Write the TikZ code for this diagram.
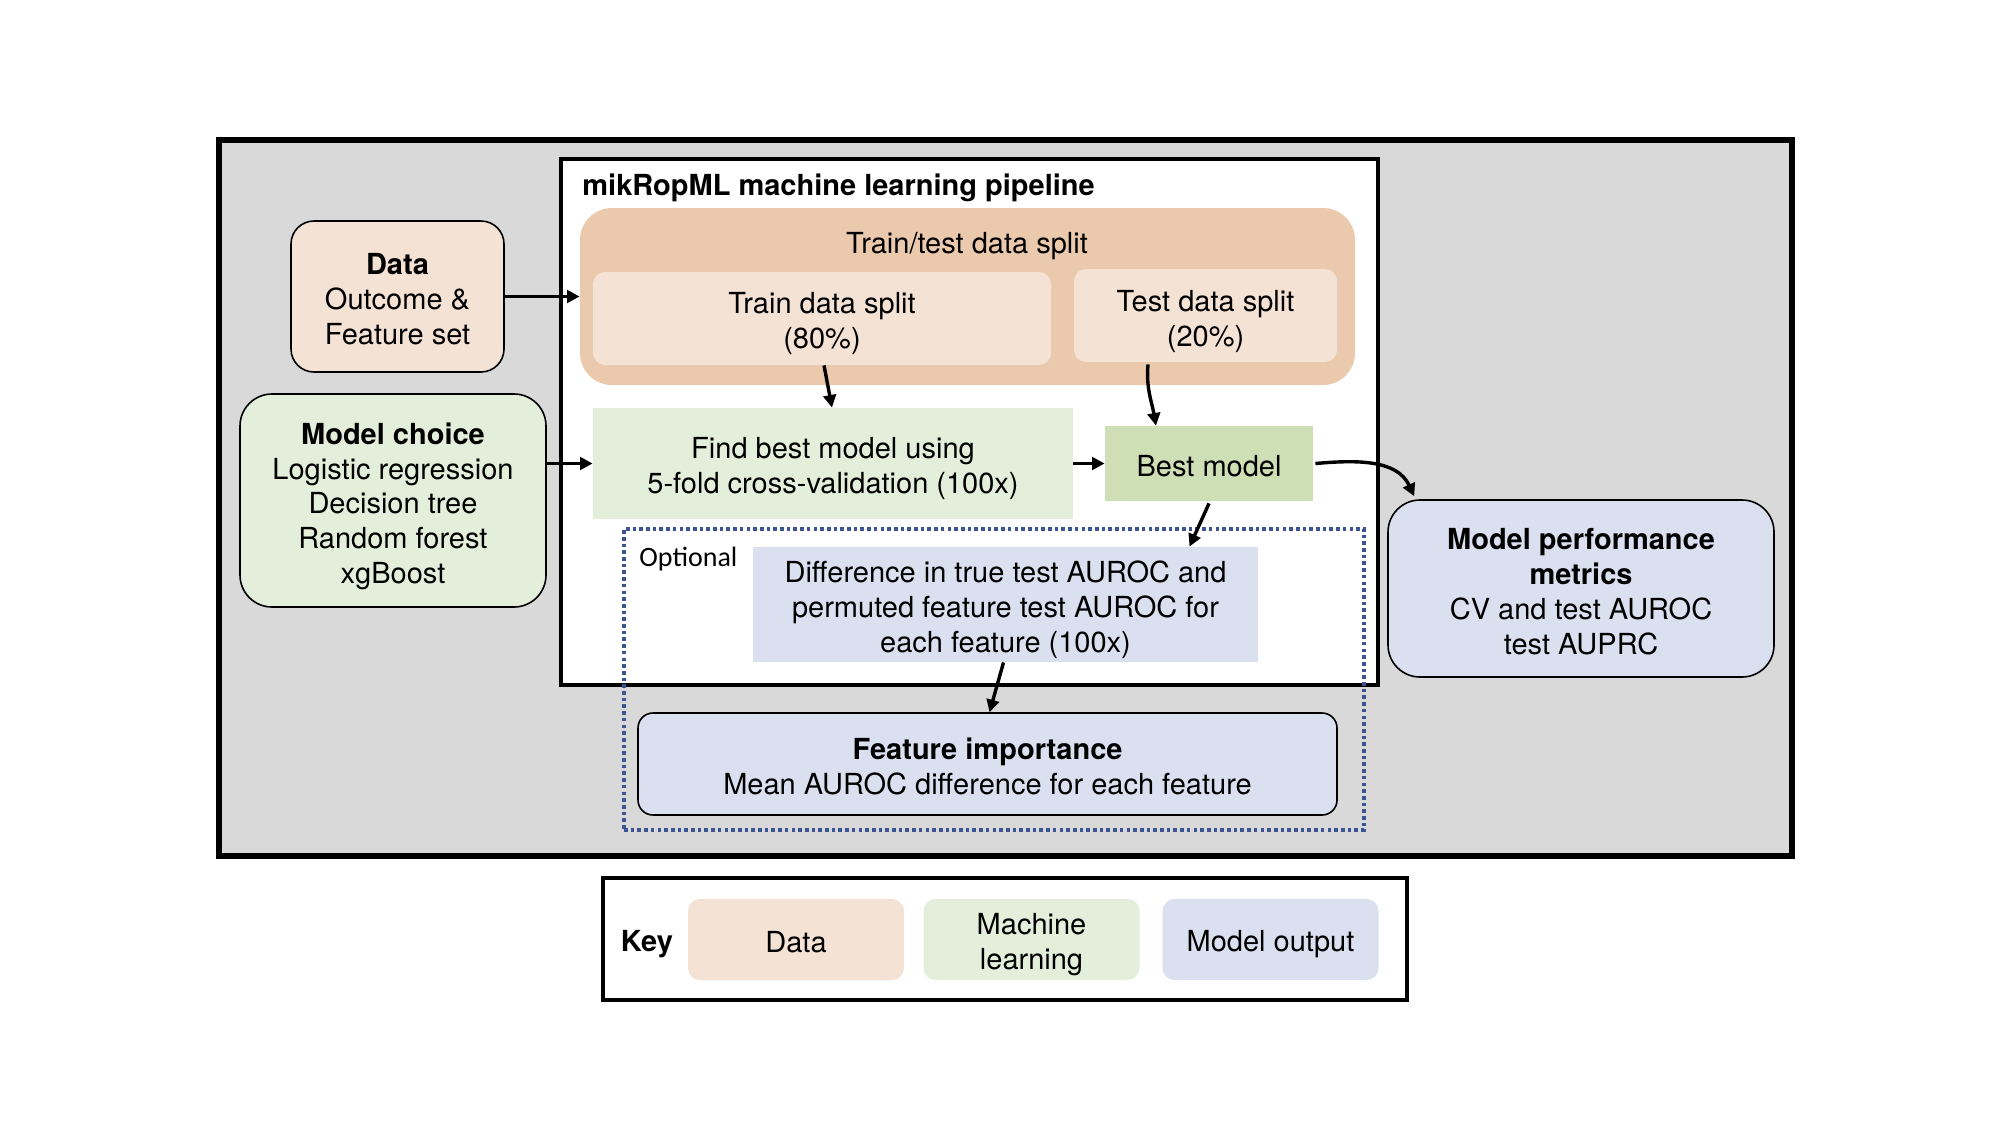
\documentclass[tikz,border=0pt]{standalone}
\usepackage{fontspec}
\setmainfont{TeX Gyre Heros}
\newfontfamily\optfont{Carlito}
\usetikzlibrary{arrows.meta}
\definecolor{bggray}{HTML}{D9D9D9}
\definecolor{orDark}{HTML}{EBC9AC}
\definecolor{orLight}{HTML}{F4E2D5}
\definecolor{grLight}{HTML}{E3EFDA}
\definecolor{grMid}{HTML}{CEDFB6}
\definecolor{blLight}{HTML}{DBE0F0}
\definecolor{dotblue}{HTML}{3D5492}
\tikzset{
  txt/.style={font=\fontsize{14.5}{17.4}\selectfont, align=center, inner sep=0pt},
  box/.style={rectangle, inner sep=0pt},
  arr/.style={-{Triangle[length=6.3pt,width=6.3pt]}, line width=1.7pt, black},
  thinbord/.style={draw=black, line width=0.8pt}
}
\begin{document}
\begin{tikzpicture}[x=0.5pt,y=-0.5pt]
\useasboundingbox[fill=white] (0,0) rectangle (2000,1125);
% outer
\node[box, fill=bggray, draw=black, line width=2.7pt, minimum width=786.5pt, minimum height=358pt] (outer) at (1005.5,498) {};
% pipeline
\node[box, fill=white, draw=black, line width=1.9pt, minimum width=408.5pt, minimum height=263pt] (pipe) at (969.5,422) {};
\node[txt, anchor=west, font=\fontsize{14.5}{17.4}\selectfont\bfseries] (title) at ([yshift=-1.3pt]582,185) {mikRopML machine learning pipeline};
% split
\node[box, fill=orDark, rounded corners=16pt, minimum width=387.5pt, minimum height=88.5pt] (split) at (967.5,296.5) {};
\node[txt] (splittitle) at ([yshift=-1.9pt]967,242) {Train/test data split};
\node[box, fill=orLight, rounded corners=6pt, minimum width=229pt, minimum height=46.5pt] (train) at (822,318.5) {};
\node[txt] (train-t) at ([yshift=-2.5pt]train.center) {Train data split\\(80\%)};
\node[box, fill=orLight, rounded corners=6pt, minimum width=131.5pt, minimum height=46.5pt] (test) at (1205.5,315.5) {};
\node[txt] (test-t) at ([yshift=-2.9pt]test.center) {Test data split\\(20\%)};
% ML
\node[box, fill=grLight, minimum width=240pt, minimum height=55.5pt] (find) at (833,463.5) {};
\node[txt] (find-t) at ([yshift=-2.5pt]find.center) {Find best model using\\5-fold cross-validation (100x)};
\node[box, fill=grMid, minimum width=104pt, minimum height=37.5pt] (best) at (1209,463.5) {};
\node[txt] (best-t) at ([yshift=-1.3pt]best.center) {Best model};
% left inputs
\node[box, fill=orLight, thinbord, rounded corners=11.5pt, minimum width=106.5pt, minimum height=75.5pt] (data) at (397.5,296.5) {};
\node[txt] (data-t) at ([yshift=-1.3pt]data.center) {\textbf{Data}\\Outcome \&\\Feature set};
\node[box, fill=grLight, thinbord, rounded corners=16pt, minimum width=153pt, minimum height=106.5pt] (mc) at (393,500.5) {};
\node[txt] (mc-t) at ([yshift=-2.9pt]mc.center) {\textbf{Model choice}\\Logistic regression\\Decision tree\\Random forest\\xgBoost};
% performance
\node[box, fill=blLight, thinbord, rounded corners=16pt, minimum width=193pt, minimum height=88.5pt] (perf) at (1581,588.5) {};
\node[txt] (perf-t) at ([yshift=-1.6pt]perf.center) {\textbf{Model performance}\\\textbf{metrics}\\CV and test AUROC\\test AUPRC};
% optional
\node[box, draw=dotblue, line width=1.7pt, dash pattern=on 1.8pt off 1.55pt, minimum width=370pt, minimum height=150.5pt] (opt) at (994,679.5) {};
\node[txt, anchor=west, font=\optfont\fontsize{14}{16}\selectfont] (opttext) at ([yshift=-1.3pt]639,556) {Optional};
\node[box, fill=blLight, minimum width=252.5pt, minimum height=57.5pt] (diff) at (1005.5,604.5) {};
\node[txt] (diff-t) at ([yshift=-2.5pt]diff.center) {Difference in true test AUROC and\\permuted feature test AUROC for\\each feature (100x)};
\node[box, fill=blLight, thinbord, rounded corners=7.5pt, minimum width=349.5pt, minimum height=51pt] (feat) at (987.5,764) {};
\node[txt] (feat-t) at ([yshift=-1.3pt]feat.center) {\textbf{Feature importance}\\Mean AUROC difference for each feature};
% key
\node[box, fill=white, draw=black, line width=2.2pt, minimum width=402pt, minimum height=61pt] (key) at (1005,939) {};
\node[txt, font=\fontsize{14.5}{17.4}\selectfont\bfseries] (keytext) at ([yshift=-1.3pt]647,941) {Key};
\node[box, fill=orLight, rounded corners=6pt, minimum width=108pt, minimum height=40.5pt] (kdata) at (796,939.5) {};
\node[txt] (kdata-t) at ([yshift=-1.3pt]kdata.center) {Data};
\node[box, fill=grLight, rounded corners=6pt, minimum width=108pt, minimum height=40.5pt] (kml) at (1031.5,939.5) {};
\node[txt] (kml-t) at ([yshift=-2.5pt]kml.center) {Machine\\learning};
\node[box, fill=blLight, rounded corners=6pt, minimum width=108pt, minimum height=40.5pt] (kout) at (1270.5,939.5) {};
\node[txt] (kout-t) at ([yshift=-2.5pt]kout.center) {Model output};
% arrows
\draw[arr] (data.east) -- (split.west);
\draw[arr] (mc.east |- find.west) -- (find.west);
\draw[arr] ([xshift=1pt]train.south) -- ([xshift=-0.5pt]find.north);
\draw[arr] ([xshift=-28.75pt,yshift=-1pt]test.south) to[out=-95,in=100] ([xshift=-26.5pt]best.north);
\draw[arr] (find.east) -- (best.west);
\draw[arr] ([xshift=1pt]best.east) to[out=5,in=115] ([xshift=13.5pt,yshift=1.5pt]perf.north west);
\draw[arr] ([yshift=-1pt]best.south) -- ([xshift=92pt]diff.north);
\draw[arr] ([xshift=-1pt]diff.south) -- ([xshift=1pt]feat.north);
\end{tikzpicture}
\end{document}
